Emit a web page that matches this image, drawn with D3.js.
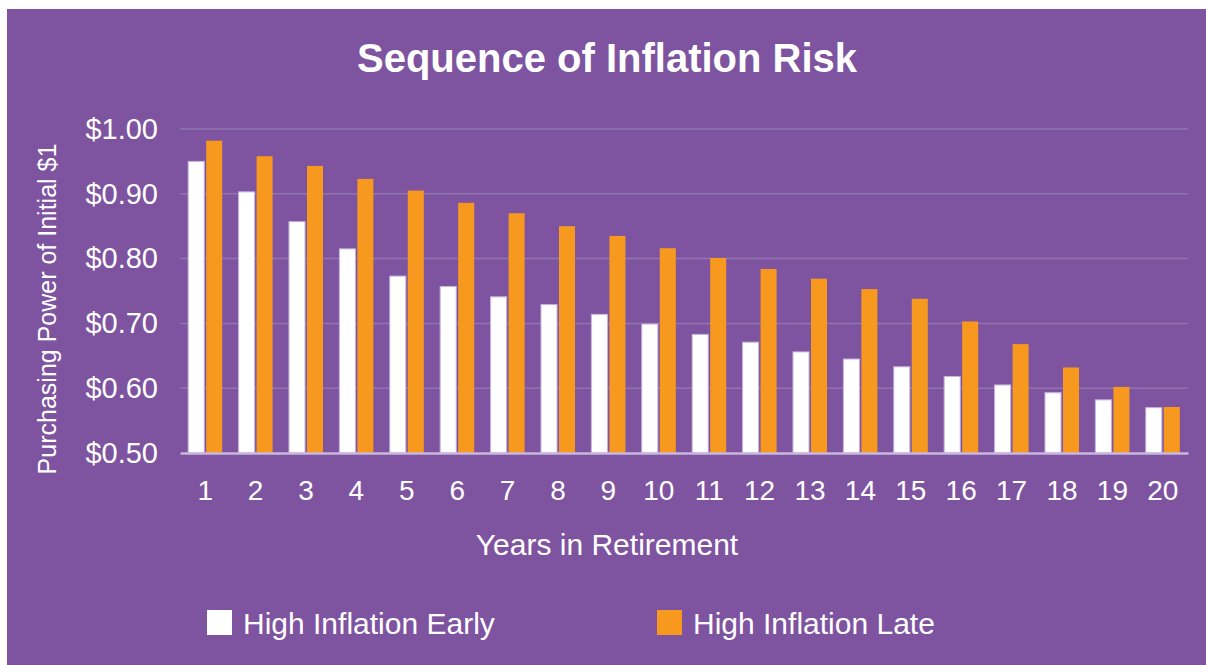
<!DOCTYPE html>
<html>
<head>
<meta charset="utf-8">
<script src="https://cdn.jsdelivr.net/npm/d3@7"></script>
<style>
  html, body { margin: 0; padding: 0; background: #ffffff; }
  svg { display: block; font-family: "Liberation Sans", Arial, sans-serif; }
</style>
</head>
<body>
<script>
var width = 1206, height = 665;

var years = d3.range(1, 21);
var seriesNames = ["High Inflation Early", "High Inflation Late"];
var seriesColors = ["#ffffff", "#f7991e"];
var earlyValues = [0.950, 0.903, 0.857, 0.815, 0.773, 0.757, 0.741, 0.729, 0.714, 0.699,
                   0.683, 0.671, 0.656, 0.645, 0.633, 0.618, 0.605, 0.593, 0.582, 0.570];
var lateValues = [0.982, 0.958, 0.943, 0.923, 0.905, 0.886, 0.870, 0.850, 0.835, 0.816,
                  0.801, 0.784, 0.769, 0.753, 0.738, 0.703, 0.668, 0.632, 0.602, 0.571];
var yTicks = [0.5, 0.6, 0.7, 0.8, 0.9, 1.0];

var data = years.map(function (y, i) {
    return { year: y, values: [earlyValues[i], lateValues[i]] };
});

var svg = d3.select("body")
    .append("svg")
    .attr("width", width)
    .attr("height", height);

// purple panel
svg.append("rect")
    .attr("x", 7)
    .attr("y", 9)
    .attr("width", width - 7)
    .attr("height", height - 9)
    .attr("fill", "#7e54a0");

var plot = { left: 180, right: 1188, top: 129, bottom: 453 };

var x0 = d3.scaleBand()
    .domain(years)
    .range([plot.left, plot.right])
    .paddingInner(0.325)
    .paddingOuter(0.1625);

var x1 = d3.scaleBand()
    .domain([0, 1])
    .range([0, x0.bandwidth()])
    .paddingInner(0.11);

var y = d3.scaleLinear()
    .domain([0.5, 1.0])
    .range([plot.bottom, plot.top]);

// title
svg.append("text")
    .attr("x", 607)
    .attr("y", 72)
    .attr("text-anchor", "middle")
    .attr("fill", "#ffffff")
    .style("font-size", "40px")
    .style("font-weight", "bold")
    .text("Sequence of Inflation Risk");

// gridlines
svg.append("g")
    .selectAll("line")
    .data(yTicks.slice(1))
    .enter().append("line")
    .attr("x1", plot.left)
    .attr("x2", plot.right)
    .attr("y1", function (d) { return y(d); })
    .attr("y2", function (d) { return y(d); })
    .attr("stroke", "#9174ae")
    .attr("stroke-width", 1.5);

// y axis
var yAxis = svg.append("g")
    .attr("transform", "translate(" + plot.left + ",0)")
    .call(d3.axisLeft(y)
        .tickValues(yTicks)
        .tickSize(0)
        .tickPadding(22)
        .tickFormat(d3.format("$.2f")));
yAxis.select(".domain").remove();
yAxis.selectAll("text")
    .attr("fill", "#ffffff")
    .style("font-size", "29px")
    .style("font-family", "'Liberation Sans', Arial, sans-serif");

// bars
var groups = svg.append("g")
    .selectAll("g")
    .data(data)
    .enter().append("g")
    .attr("transform", function (d) { return "translate(" + x0(d.year) + ",0)"; });

groups.selectAll("rect")
    .data(function (d) { return d.values.map(function (v, i) { return { i: i, v: v }; }); })
    .enter().append("rect")
    .attr("x", function (d) { return x1(d.i); })
    .attr("y", function (d) { return y(d.v); })
    .attr("width", x1.bandwidth())
    .attr("height", function (d) { return y(0.5) - y(d.v); })
    .attr("fill", function (d) { return seriesColors[d.i]; })
    .attr("stroke", function (d) { return d.i === 0 ? "#c8b5dc" : "none"; })
    .attr("stroke-width", 1);

// x axis
var xAxis = svg.append("g")
    .attr("transform", "translate(0," + plot.bottom + ")")
    .call(d3.axisBottom(x0).tickSize(0).tickPadding(27));
xAxis.select(".domain")
    .attr("stroke", "#c9b7dc")
    .attr("stroke-width", 2.5);
xAxis.selectAll("text")
    .attr("fill", "#ffffff")
    .attr("dy", "0.71em")
    .style("font-size", "28px")
    .style("font-family", "'Liberation Sans', Arial, sans-serif");

// axis titles
svg.append("text")
    .attr("x", 607)
    .attr("y", 555)
    .attr("text-anchor", "middle")
    .attr("fill", "#ffffff")
    .style("font-size", "30px")
    .text("Years in Retirement");

svg.append("text")
    .attr("transform", "translate(56," + ((plot.top + plot.bottom) / 2 + 18) + ") rotate(-90)")
    .attr("text-anchor", "middle")
    .attr("fill", "#ffffff")
    .style("font-size", "25px")
    .text("Purchasing Power of Initial $1");

// legend
var legendX = [207, 657];
var legend = svg.append("g")
    .selectAll("g")
    .data(seriesNames)
    .enter().append("g")
    .attr("transform", function (d, i) { return "translate(" + legendX[i] + ",610)"; });

legend.append("rect")
    .attr("width", 25)
    .attr("height", 25)
    .attr("fill", function (d, i) { return seriesColors[i]; });

legend.append("text")
    .attr("x", 36)
    .attr("y", 24)
    .attr("fill", "#ffffff")
    .style("font-size", "30px")
    .text(function (d) { return d; });
</script>
</body>
</html>
